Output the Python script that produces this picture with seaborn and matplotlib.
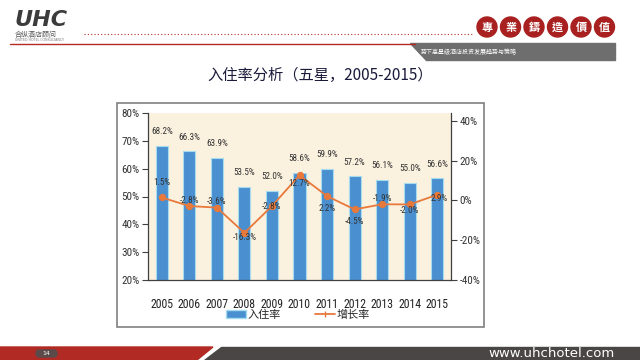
import numpy as np
import pandas as pd
import matplotlib
matplotlib.use("Agg")
import matplotlib.pyplot as plt
import seaborn as sns
from matplotlib.patches import Rectangle, Polygon, Circle, Patch, FancyBboxPatch
from matplotlib.lines import Line2D

# ---------------- data ----------------
years = ["2005", "2006", "2007", "2008", "2009", "2010", "2011", "2012", "2013", "2014", "2015"]
occupancy = [68.2, 66.3, 63.9, 53.5, 52.0, 58.6, 59.9, 57.2, 56.1, 55.0, 56.6]
growth = [1.5, -2.8, -3.6, -16.3, -2.8, 12.7, 2.2, -4.5, -1.9, -2.0, 2.9]
left_ticks = [20, 30, 40, 50, 60, 70, 80]
right_ticks = [-40, -20, 0, 20, 40]
title = "入住率分析（五星，2005-2015）"
series_names = ["入住率", "增长率"]
motto = ["專", "業", "鑄", "造", "價", "值"]

# label offsets in pixels (style only; positive = up)
growth_label_up = [15, 6, 6, -5, 0, -8, -12, -12, 6, -6, -4]
growth_label_dx = [0, 0, 0, 0, 0, 0, 0, 0, 0, 0, 2]

W, H = 640, 360
sns.set_theme(style="white")
CJK = ["Noto Sans CJK SC", "DejaVu Sans"]
NUM = ["Roboto Condensed", "Roboto", "DejaVu Sans"]
plt.rcParams["font.family"] = CJK

fig = plt.figure(figsize=(W / 100, H / 100), dpi=100)
fig.patch.set_facecolor("white")

# ---------- background / decoration layer in pixel coords ----------
bg = fig.add_axes([0, 0, 1, 1], zorder=-5)
bg.set_xlim(0, W)
bg.set_ylim(H, 0)
bg.axis("off")

# logo
bg.text(14, 26, "UHC", fontsize=16, fontweight="bold", fontstyle="italic",
        color="#3c3c3c", va="baseline", ha="left", family=["DejaVu Sans"])
bg.text(15, 35, "合纵酒店顾问", fontsize=5, color="#555555", va="center", ha="left", family=CJK)
bg.text(15, 40, "UNITED HOTEL CONSULTANCY", fontsize=2.3, color="#777777", va="center", ha="left",
        family=["DejaVu Sans"])
# dotted line
bg.plot([84, 474], [34, 34], linestyle=(0, (1, 2)), color="#b03030", lw=0.8)
# red line
bg.plot([10, 415], [43.5, 43.5], color="#b52a25", lw=1.0)
# gray bar
bg.add_patch(Polygon([(410, 43), (615, 43), (615, 60), (426, 60)], closed=True, color="#6e6e6e"))
bg.text(421, 51.5, "势下高星级酒店投资发展趋势与策略", fontsize=4.3, color="white", va="center",
        ha="left", family=CJK)
# motto circles
for i, ch in enumerate(motto):
    cx = 487 + i * 23.5
    bg.add_patch(Circle((cx, 27), 10, color="#a8201f"))
    bg.text(cx, 27.5, ch, fontsize=8, color="white", ha="center", va="center",
            fontweight="bold", family=["Noto Sans CJK TC", "DejaVu Sans"])

# title
bg.text(320, 75, title, fontsize=11, color="#1a1a3a", ha="center", va="center", family=CJK)

# chart frame
bg.add_patch(Rectangle((117, 103), 367, 224, facecolor="white", edgecolor="#808080", lw=1.2))

# footer
bg.add_patch(Polygon([(0, 347), (213, 347), (197, 360), (0, 360)], closed=True, color="#b22a24"))
bg.add_patch(Polygon([(221, 347), (W, 347), (W, 360), (204, 360)], closed=True, color="#4b4646"))
bg.add_patch(FancyBboxPatch((36, 350), 21, 7, boxstyle="round,pad=0,rounding_size=3.5",
                            color="#5a4a4a"))
bg.text(46.5, 353.7, "14", fontsize=4.5, color="white", ha="center", va="center", family=["DejaVu Sans"])
bg.text(615, 353.5, "www.uhchotel.com", fontsize=9.5, color="white", ha="right", va="center",
        family=["DejaVu Sans"])

# ---------------- chart ----------------
x0, x1 = 148, 451
y_top, y_bot = 113, 280
ax = fig.add_axes([x0 / W, 1 - y_bot / H, (x1 - x0) / W, (y_bot - y_top) / H], zorder=1)
ax.set_facecolor("#fbf1df")

df = pd.DataFrame({"year": years, "occ": occupancy, "growth": growth})
sns.barplot(data=df, x="year", y="occ", ax=ax, color="#4a8fd0", width=0.44,
            saturation=1, edgecolor="#a6dcf0", linewidth=0.8)
ax.set_ylim(20, 80)
ax.set_xlim(-0.5, len(years) - 0.5)
ax.set_yticks(left_ticks)
ax.set_yticklabels([f"{v}%" for v in left_ticks], family=NUM, fontsize=8, color="#333333")
ax.set_xlabel("")
ax.set_ylabel("")
ax.set_xticks(range(len(years)))
ax.set_xticklabels(years, family=NUM, fontsize=8.5, color="#222222")
ax.tick_params(axis="x", which="major", length=0, pad=13)
ax.set_xticks(np.arange(-0.5, len(years), 1), minor=True)
ax.tick_params(axis="x", which="minor", length=4, width=0.8, color="#404040", direction="out")
ax.tick_params(axis="y", which="major", length=4, width=0.8, color="#404040", direction="out", pad=2)
for s in ["top", "right"]:
    ax.spines[s].set_visible(False)
for s in ["left", "bottom"]:
    ax.spines[s].set_color("#404040")
    ax.spines[s].set_linewidth(0.9)

for i, v in enumerate(occupancy):
    ax.annotate(f"{v:.1f}%", (i, v), xytext=(0, 14), textcoords="offset pixels",
                ha="center", va="center", fontsize=6.6, color="#333333", family=NUM)

ax2 = ax.twinx()
ax2.set_zorder(2)
sns.lineplot(x=np.arange(len(years)), y=growth, ax=ax2, color="#e8793a", lw=1.3,
             marker="o", markersize=4.5, markeredgecolor="#e8793a")
ax2.set_ylim(-40, 44)
ax2.set_yticks(right_ticks)
ax2.set_yticklabels([f"{v}%" for v in right_ticks], family=NUM, fontsize=8, color="#333333")
ax2.tick_params(axis="y", length=4, width=0.8, color="#404040", direction="out", pad=2)
for s in ["top", "left", "bottom"]:
    ax2.spines[s].set_visible(False)
ax2.spines["right"].set_color("#404040")
ax2.spines["right"].set_linewidth(0.9)
ax2.grid(False)
ax.grid(False)

for i, v in enumerate(growth):
    ax2.annotate(f"{v:.1f}%", (i, v), xytext=(growth_label_dx[i], growth_label_up[i]),
                 textcoords="offset pixels", ha="center", va="center", fontsize=6.6,
                 color="#333333", family=NUM)

handles = [Patch(facecolor="#4a8fd0", edgecolor="#a6dcf0"),
           Line2D([0], [0], color="#e8793a", lw=1.3, marker="|", markersize=5)]
fig.legend(handles, series_names, loc="center", bbox_to_anchor=(298 / W, 1 - 315 / H),
           ncol=2, frameon=False, columnspacing=3.0, handlelength=1.8,
           handletextpad=0.2, prop={"family": CJK, "size": 8})

fig.savefig("out.png", dpi=100)
